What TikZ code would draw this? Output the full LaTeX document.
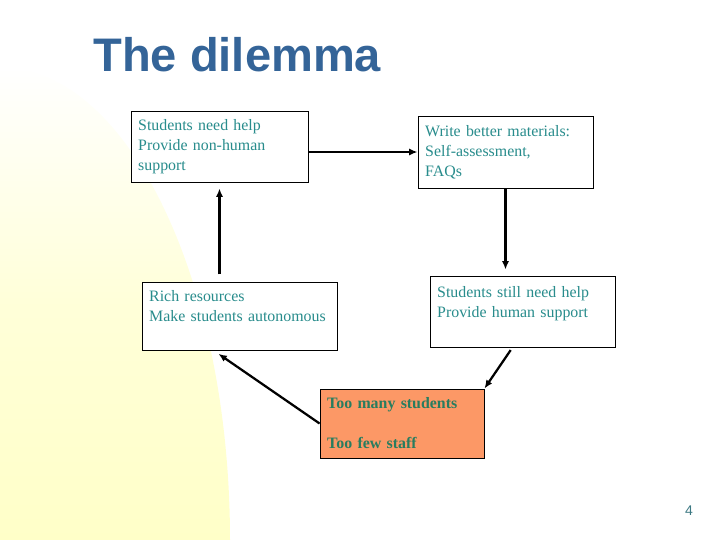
\documentclass[tikz,border=0pt]{standalone}
\usepackage{fontspec}
\setmainfont{Liberation Serif}
\setsansfont{Liberation Sans}
\usepackage{xcolor}
\usepackage{tikz}
\usetikzlibrary{arrows.meta,positioning,calc}

\definecolor{titleblue}{RGB}{52,100,152}
\definecolor{boxtext}{RGB}{40,140,140}
\definecolor{hottext}{RGB}{40,125,95}
\definecolor{hotfill}{RGB}{252,152,102}
\definecolor{bgyellow}{RGB}{255,255,200}
\definecolor{pagenum}{RGB}{60,120,130}

\begin{document}
\begin{tikzpicture}[
  stepbox/.style={draw, line width=0.6pt, fill=white, align=left, inner xsep=0.18cm, inner ysep=0pt,
    font=\fontsize{11.3}{14.2}\selectfont, text=boxtext},
  arrow/.style={-{Latex[length=6pt,width=5pt]}, line width=1.6pt}
]
  \useasboundingbox (0,0) rectangle (18,-13.5);
  % pale yellow backdrop, lower left
  \shade[top color=white, bottom color=bgyellow, middle color=bgyellow!70]
    (0,-1.675) arc[start angle=90, end angle=0, x radius=5.75cm, y radius=11.825cm] -- (0,-13.5) -- cycle;

  \node[anchor=base west, inner sep=0, font=\sffamily\bfseries\fontsize{33.5}{40}\selectfont, text=titleblue]
    (title) at (2.325,-1.775) {The dilemma};

  \node[stepbox, text width=4.065cm, minimum height=1.775cm] (a) at (5.4875,-3.6625)
    {Students need help\\Provide non-human\\support};
  \node[stepbox, text width=4.015cm, minimum height=1.8cm] (b) at (12.6375,-3.8)
    {Write better materials:\\Self-assessment,\\FAQs};
  \node[stepbox, text width=4.265cm, minimum height=1.775cm] (c) at (13.0625,-7.7875)
    {Students still need help\\Provide human support\\\mbox{}};
  \node[stepbox, text width=4.515cm, minimum height=1.7cm] (d) at (5.9875,-7.9)
    {Rich resources\\Make students autonomous\\\mbox{}};
  \node[stepbox, text width=3.74cm, minimum height=1.725cm, fill=hotfill, text=hottext, font=\fontsize{11.3}{14.2}\selectfont\bfseries]
    (e) at (10.05,-10.5875) {Too many students\\\mbox{}\\Too few staff};

  \draw[arrow] (b.west -| a.east) -- (b.west);
  \draw[arrow, shorten >=0.15cm] (b.south) -- (b.south |- c.north);
  \draw[arrow, shorten <=0.08cm] ([xshift=-0.25cm]c.south) -- (e.north east);
  \draw[arrow, shorten >=0.15cm] (e.west) -- ([xshift=-0.65cm]d.south);
  \draw[arrow, shorten <=0.18cm, shorten >=0.15cm] (d.north -| a.south) -- (a.south);

  \node[font=\sffamily\fontsize{10}{12}\selectfont, text=pagenum] (num) at (17.225,-12.775) {4};
\end{tikzpicture}
\end{document}
